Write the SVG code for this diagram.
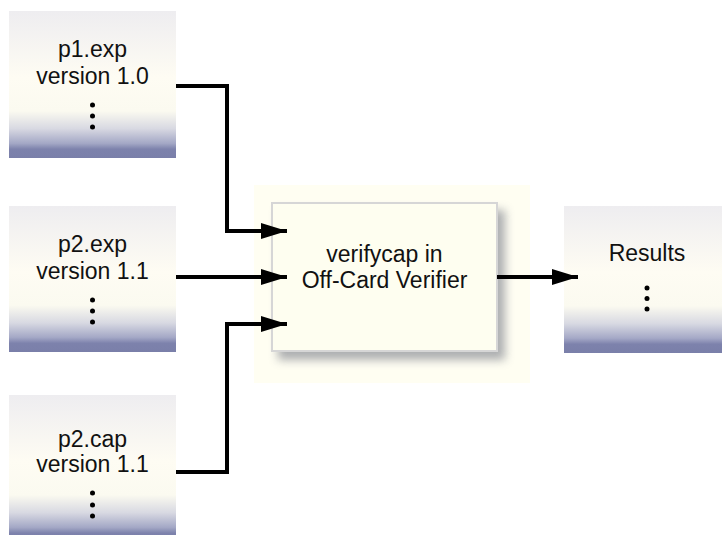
<svg xmlns="http://www.w3.org/2000/svg" width="722" height="535" viewBox="0 0 722 535">
<defs>
<linearGradient id="ng" x1="0" y1="0" x2="0" y2="1">
<stop offset="0" stop-color="#eeedf0"/>
<stop offset="0.45" stop-color="#fefcf3"/>
<stop offset="0.68" stop-color="#fbfaf0"/>
<stop offset="0.8" stop-color="#d8d9e2"/>
<stop offset="0.9" stop-color="#a4a8c6"/>
<stop offset="0.94" stop-color="#7d82ac"/>
<stop offset="1" stop-color="#7a7fa9"/>
</linearGradient>
<filter id="sh" x="-20%" y="-20%" width="140%" height="140%">
<feGaussianBlur stdDeviation="5"/>
</filter>
<marker id="ah" viewBox="0 0 26 16" refX="26" refY="8" markerWidth="26" markerHeight="16" markerUnits="userSpaceOnUse" orient="auto">
<path d="M0,0 L26,8 L0,16 Z" fill="#000"/>
</marker>
</defs>
<style>
.node{fill:url(#ng)}
.t{font-family:"Liberation Sans",Arial,sans-serif;font-size:23px;fill:#111;text-anchor:middle}
.dot{fill:#000}
.c{fill:none;stroke:#000;stroke-width:4;stroke-linejoin:miter}
</style>
<g id="p1exp">
<rect class="node" x="9" y="11" width="167" height="147"/>
<text class="t" x="92.5" y="57">p1.exp</text>
<text class="t" x="92.5" y="84">version 1.0</text>
<circle class="dot" cx="92.5" cy="105" r="2.5"/>
<circle class="dot" cx="92.5" cy="116" r="2.5"/>
<circle class="dot" cx="92.5" cy="127" r="2.5"/>
</g>
<g id="p2exp">
<rect class="node" x="9" y="206" width="167" height="146"/>
<text class="t" x="92.5" y="252">p2.exp</text>
<text class="t" x="92.5" y="279">version 1.1</text>
<circle class="dot" cx="92.5" cy="300" r="2.5"/>
<circle class="dot" cx="92.5" cy="311" r="2.5"/>
<circle class="dot" cx="92.5" cy="322" r="2.5"/>
</g>
<g id="p2cap">
<rect class="node" x="9" y="395" width="167" height="147"/>
<text class="t" x="92.5" y="447">p2.cap</text>
<text class="t" x="92.5" y="472">version 1.1</text>
<circle class="dot" cx="92.5" cy="493" r="2.5"/>
<circle class="dot" cx="92.5" cy="505" r="2.5"/>
<circle class="dot" cx="92.5" cy="516" r="2.5"/>
</g>
<g id="verifier">
<rect x="254" y="185" width="276" height="198" fill="#fffef2"/>
<rect x="278" y="210" width="227" height="150" fill="#8a8d95" opacity="0.7" filter="url(#sh)"/>
<rect x="272" y="203" width="225" height="148" fill="#fefef0" stroke="#d6d6d6" stroke-width="2"/>
<text class="t" x="384.5" y="262">verifycap in</text>
<text class="t" x="384.5" y="288">Off-Card Verifier</text>
</g>
<g id="results">
<rect class="node" x="564" y="206" width="158" height="147"/>
<text class="t" x="647" y="261">Results</text>
<circle class="dot" cx="647" cy="288" r="2.5"/>
<circle class="dot" cx="647" cy="298.5" r="2.5"/>
<circle class="dot" cx="647" cy="309" r="2.5"/>
</g>
<g id="connectors">
<path class="c" d="M176,86 H227 V231 H287" marker-end="url(#ah)"/>
<path class="c" d="M176,277 H287" marker-end="url(#ah)"/>
<path class="c" d="M176,472 H227 V324 H287" marker-end="url(#ah)"/>
<path class="c" d="M497,277 H578" marker-end="url(#ah)"/>
</g>
</svg>
